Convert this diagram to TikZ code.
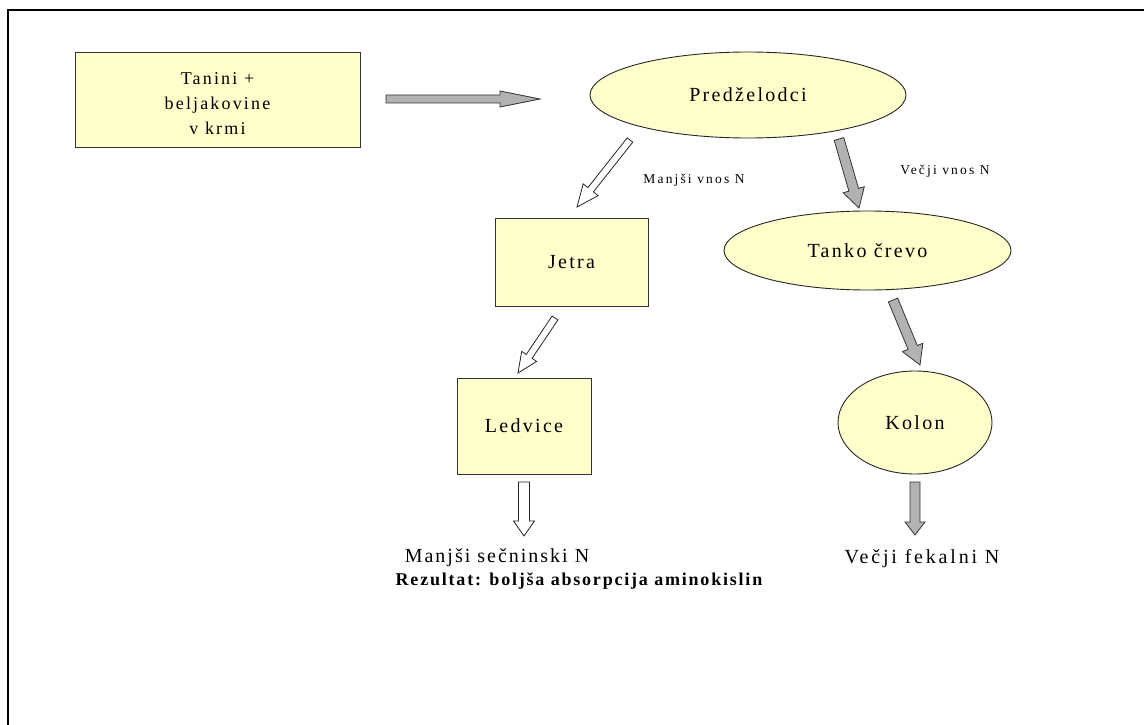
\documentclass[tikz,border=0pt]{standalone}
\usepackage{fontspec}
\setmainfont{Liberation Serif}[LetterSpace=11.5]
\usetikzlibrary{shapes.geometric,calc}
\definecolor{pale}{HTML}{FFFFCC}
\definecolor{arrgray}{HTML}{B2B2B2}
\tikzset{
  box/.style={draw=black!80, line width=0.9, fill=pale, rectangle, inner sep=0pt, align=center,
    font=\fontsize{20}{24}\selectfont},
  oval/.style={draw=black!85, line width=0.9, fill=pale, ellipse, inner sep=0pt,
    font=\fontsize{20}{24}\selectfont},
  lbl/.style={inner sep=0pt, anchor=base, font=\fontsize{13.5}{16}\selectfont\addfontfeatures{LetterSpace=16}},
  big/.style={inner sep=0pt, anchor=base, font=\fontsize{20}{24}\selectfont},
  garrow/.style={draw=black!80, line width=0.8, fill=arrgray},
  warrow/.style={draw=black!85, line width=0.8, fill=white},
}
\def\blkarrow#1#2#3#4#5#6{%
  \coordinate (hb) at ($(#3)!#6!(#2)$);
  \path[#1] ($(#2)!#4!90:(#3)$) -- ($(hb)!#4!90:(#3)$) -- ($(hb)!#5!90:(#3)$) -- (#3)
    -- ($(hb)!#5!-90:(#3)$) -- ($(hb)!#4!-90:(#3)$) -- ($(#2)!#4!-90:(#3)$) -- cycle;
}
\begin{document}
\begin{tikzpicture}[x=1pt,y=-1pt]
\useasboundingbox (0,0) rectangle (1144,725);
\draw[line width=2] (1150,10) -- (8,10) -- (8,730);

% nodes
\node[box, minimum width=285, minimum height=95] (tan) at (217.5,99.5) {};
\node[inner sep=0pt, align=center, font=\fontsize{18}{25}\selectfont\addfontfeatures{LetterSpace=12}] (tant) at (217.5,104) {Tanini +\\beljakovine\\v krmi};
\node[oval, minimum width=316, minimum height=86] (pred) at (748,95) {Predželodci};
\node[box, minimum width=153, minimum height=88] (jet) at (571.5,262) {Jetra};
\node[oval, minimum width=287, minimum height=79] (tank) at (867.5,250.5) {Tanko črevo};
\node[box, minimum width=134, minimum height=96] (led) at (524,426) {Ledvice};
\node[oval, minimum width=154, minimum height=103] (kol) at (915,422.5) {Kolon};

% labels
\node[lbl] (lman) at (694,183) {Manjši vnos N};
\node[lbl] (lvec) at (945,174) {Večji vnos N};
\node[big, font=\fontsize{20}{24}\selectfont\addfontfeatures{LetterSpace=10}] (oman) at (497,562) {Manjši sečninski N};
\node[big, font=\fontsize{20}{24}\selectfont\addfontfeatures{LetterSpace=14}] (ovec) at (922,563) {Večji fekalni N};
\node[inner sep=0pt, anchor=base, font=\fontsize{18}{22}\selectfont\bfseries\addfontfeatures{LetterSpace=10}] (rez) at (579,585) {Rezultat: boljša absorpcija aminokislin};

% arrow end points
\coordinate (a1) at (386,99);   \coordinate (b1) at (540,99);
\coordinate (a2) at (630,140);  \coordinate (b2) at (577,207);
\coordinate (a3) at (839,139);  \coordinate (b3) at (859,208);
\coordinate (a4) at (893,300);  \coordinate (b4) at (920,365);
\coordinate (a5) at (555,318);  \coordinate (b5) at (518,373);
\coordinate (a6) at (524,482);  \coordinate (b6) at (524,536);
\coordinate (a7) at (915,482);  \coordinate (b7) at (915,535);

\blkarrow{garrow}{a1}{b1}{4pt}{8pt}{40pt}
\blkarrow{warrow}{a2}{b2}{3.5pt}{9.5pt}{22pt}
\blkarrow{garrow}{a3}{b3}{5pt}{11pt}{19pt}
\blkarrow{garrow}{a4}{b4}{5pt}{11pt}{19pt}
\blkarrow{warrow}{a5}{b5}{3.5pt}{9pt}{20pt}
\blkarrow{warrow}{a6}{b6}{5.5pt}{10.5pt}{15pt}
\blkarrow{garrow}{a7}{b7}{5pt}{10pt}{13pt}
\end{tikzpicture}
\end{document}
